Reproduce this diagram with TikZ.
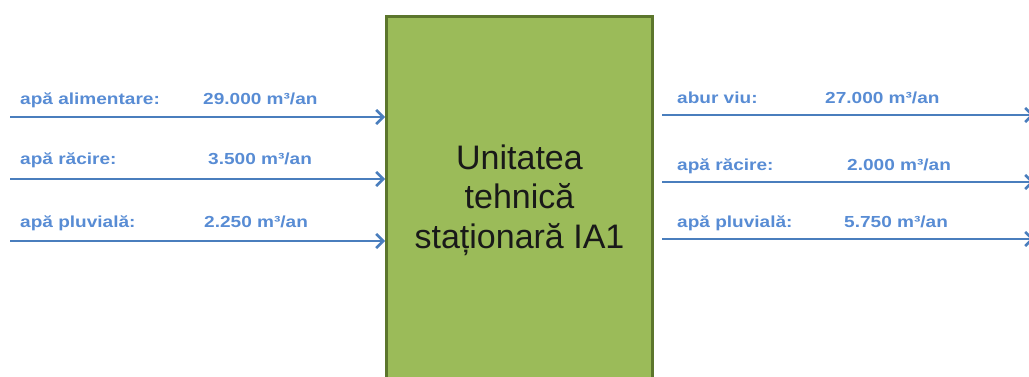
\documentclass[tikz,border=0pt]{standalone}
\usepackage{fontspec}
\setmainfont{Liberation Sans}
\newfontfamily\labelfont[FakeStretch=1.19]{Liberation Sans}
\usetikzlibrary{arrows.meta}

\definecolor{flowblue}{RGB}{74,126,189}
\definecolor{textblue}{RGB}{88,140,212}
\definecolor{unitgreen}{RGB}{155,187,89}
\definecolor{unitborder}{RGB}{92,118,44}

\begin{document}
\begin{tikzpicture}[x=1pt, y=-1pt,
    flow/.style={draw=flowblue, line width=2.6pt, -{Straight Barb[length=7pt, width=14pt]}},
    lbl/.style={anchor=base west, inner sep=0pt, text=textblue, font=\labelfont\bfseries\fontsize{16}{16}\selectfont}]
  \path[use as bounding box] (0, 0) rectangle (1029, 377);
  \clip (0, 0) rectangle (1029, 377);

  \node[draw=unitborder, line width=3pt, fill=unitgreen, minimum width=266pt, minimum height=366pt,
    anchor=north, align=center, text=black!90, font=\fontsize{34}{39.5}\selectfont]
    (unit) at (519.5, 15.5) {Unitatea\\tehnică\\staționară IA1};

  % intrari
  \foreach \y/\b/\name/\val/\vx [count=\i] in {
      117/105/{apă alimentare:}/{29.000}/203,
      179/165/{apă răcire:}/{3.500}/208,
      241/228/{apă pluvială:}/{2.250}/204
    } {
      \coordinate (in\i) at (10, \y);
      \draw[flow] (in\i) -- (in\i -| unit.west);
      \node[lbl] (inname\i) at (20, \b) {\name};
      \node[lbl] (inval\i) at (\vx, \b) {\val{} m³/an};
    }

  % iesiri
  \foreach \y/\b/\name/\val/\vx [count=\i] in {
      115/104/{abur viu:}/{27.000}/825,
      182/171/{apă răcire:}/{2.000}/847,
      239/228/{apă pluvială:}/{5.750}/844
    } {
      \coordinate (out\i) at (1034, \y);
      \draw[flow] ([xshift=8pt]unit.east |- out\i) -- (out\i);
      \node[lbl] (outname\i) at (677, \b) {\name};
      \node[lbl] (outval\i) at (\vx, \b) {\val{} m³/an};
    }
\end{tikzpicture}
\end{document}
